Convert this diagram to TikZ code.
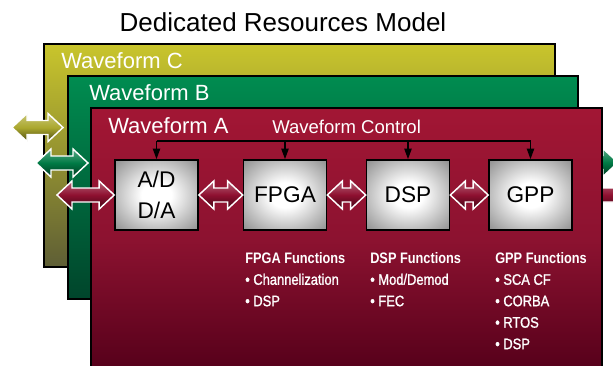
\documentclass[tikz,border=0pt]{standalone}
\usepackage{fontspec}
\setmainfont{Liberation Sans}
\newfontfamily\narrowfont[FakeStretch=0.84]{Liberation Sans}
\newfontfamily\narrowmed[FakeStretch=0.85,FakeBold=1.3]{Liberation Sans}
\usepackage{tikz}
\usetikzlibrary{positioning,arrows.meta,calc}
\definecolor{oliveTop}{HTML}{C9C52C}
\definecolor{oliveBot}{HTML}{5E5E35}
\definecolor{oliveArrow}{HTML}{ABA82E}
\definecolor{greenTop}{HTML}{008C50}
\definecolor{greenBot}{HTML}{00452B}
\definecolor{greenArrow}{HTML}{007A45}
\definecolor{redTop}{HTML}{A21634}
\definecolor{redMid}{HTML}{8C1230}
\definecolor{redBot}{HTML}{55001A}
\definecolor{redArrow}{HTML}{8E1030}
\pgfdeclareradialshading{pillow}{\pgfpoint{0bp}{0bp}}{color(0bp)=(white); color(9bp)=(white); color(36bp)=(black!45); color(50bp)=(black!58)}

% fat double arrow between two points at the same height
\newcommand{\dblarrow}[3]{%
  \path[fatarrow=#3] (#1) -- ++(15,-14) -- ++(0,7) -- ($(#2)+(-15,-7)$) -- ++(0,-7)
    -- (#2) -- ++(-15,14) -- ++(0,-7) -- ($(#1)+(15,7)$) -- ++(0,7) -- cycle;}

\begin{document}
\begin{tikzpicture}[x=0.75pt,y=-0.75pt,
    layer/.style={draw=black,line width=1.1pt,top color=#1Top,bottom color=#1Bot},
    wflabel/.style={anchor=base west,inner sep=0pt,text=white,font=\fontsize{16.5}{19}\selectfont},
    unitbox/.style={draw=black,line width=1.2pt,shading=pillow,align=center,
      minimum width=62.25pt,minimum height=52.5pt,inner sep=0pt,font=\fontsize{17}{20}\selectfont},
    fatarrow/.style={draw=white,line width=1.1pt,top color=#1!65!white,bottom color=#1!45!black,middle color=#1},
    ctl/.style={draw=black,line width=1.1pt},
    fnlist/.style={anchor=north west,inner sep=0pt,align=left,text=white,
      font=\narrowmed\fontsize{11.4}{16.1}\selectfont}]
  \useasboundingbox (0,0) rectangle (613,365);
  \clip (0,0) rectangle (613,365);

  \node[anchor=base,inner sep=0pt,font=\fontsize{19.5}{23}\selectfont] (title) at (283,31) {Dedicated Resources Model};

  % waveform C
  \draw[layer=olive] (44,44) rectangle (555,267);
  \node[wflabel] (labC) at (61,68) {Waveform C};
  \coordinate (cL) at (12,127.5);
  \coordinate (cR) at (63,127.5);
  \dblarrow{cL}{cR}{oliveArrow}

  % waveform B
  \draw[layer=green] (68,76) rectangle (578,299);
  \node[wflabel] (labB) at (89,100) {Waveform B};
  \coordinate (bL) at (36,163);
  \coordinate (bR) at (88,163);
  \dblarrow{bL}{bR}{greenArrow}
  \coordinate (bL2) at (540,162.5);
  \coordinate (bR2) at (618,162.5);
  \dblarrow{bL2}{bR2}{greenArrow}
  \coordinate (aL2) at (575,195);
  \coordinate (aR2) at (660,195);
  \dblarrow{aL2}{aR2}{redArrow}

  % waveform A
  \draw[draw=black,line width=1.1pt,top color=redTop,bottom color=redBot,middle color=redMid] (91,108) rectangle (602,372);
  \node[wflabel] (labA) at (108,133) {Waveform A};
  \node[anchor=base west,inner sep=0pt,text=white,font=\fontsize{13.9}{16}\selectfont] (ctrl) at (272,133) {Waveform Control};

  \node[unitbox] (ad) at (156.5,195) {A/D\\[3pt]D/A};
  \node[unitbox] (fpga) at (285,195) {FPGA};
  \node[unitbox] (dsp) at (408,195) {DSP};
  \node[unitbox] (gpp) at (530.5,195) {GPP};

  \coordinate (aL) at (57,195);
  \dblarrow{aL}{ad.west}{redArrow}
  \dblarrow{ad.east}{fpga.west}{redArrow}
  \dblarrow{fpga.east}{dsp.west}{redArrow}
  \dblarrow{dsp.east}{gpp.west}{redArrow}

  % control bus
  \coordinate (bus) at (0,141);
  \draw[ctl] (ad.north |- bus) -- (gpp.north |- bus);
  \foreach \u in {ad,fpga,dsp,gpp}
    \draw[ctl,-{Triangle[length=8pt,width=5.5pt]}] (\u.north |- bus) -- (\u.north);

  \node[fnlist] (fpgafn) at (245,252) {{\narrowfont\bfseries FPGA Functions}\\• Channelization\\• DSP};
  \node[fnlist] (dspfn) at (370,252) {{\narrowfont\bfseries DSP Functions}\\• Mod/Demod\\• FEC};
  \node[fnlist] (gppfn) at (495,252) {{\narrowfont\bfseries GPP Functions}\\• SCA CF\\• CORBA\\• RTOS\\• DSP};
\end{tikzpicture}
\end{document}
